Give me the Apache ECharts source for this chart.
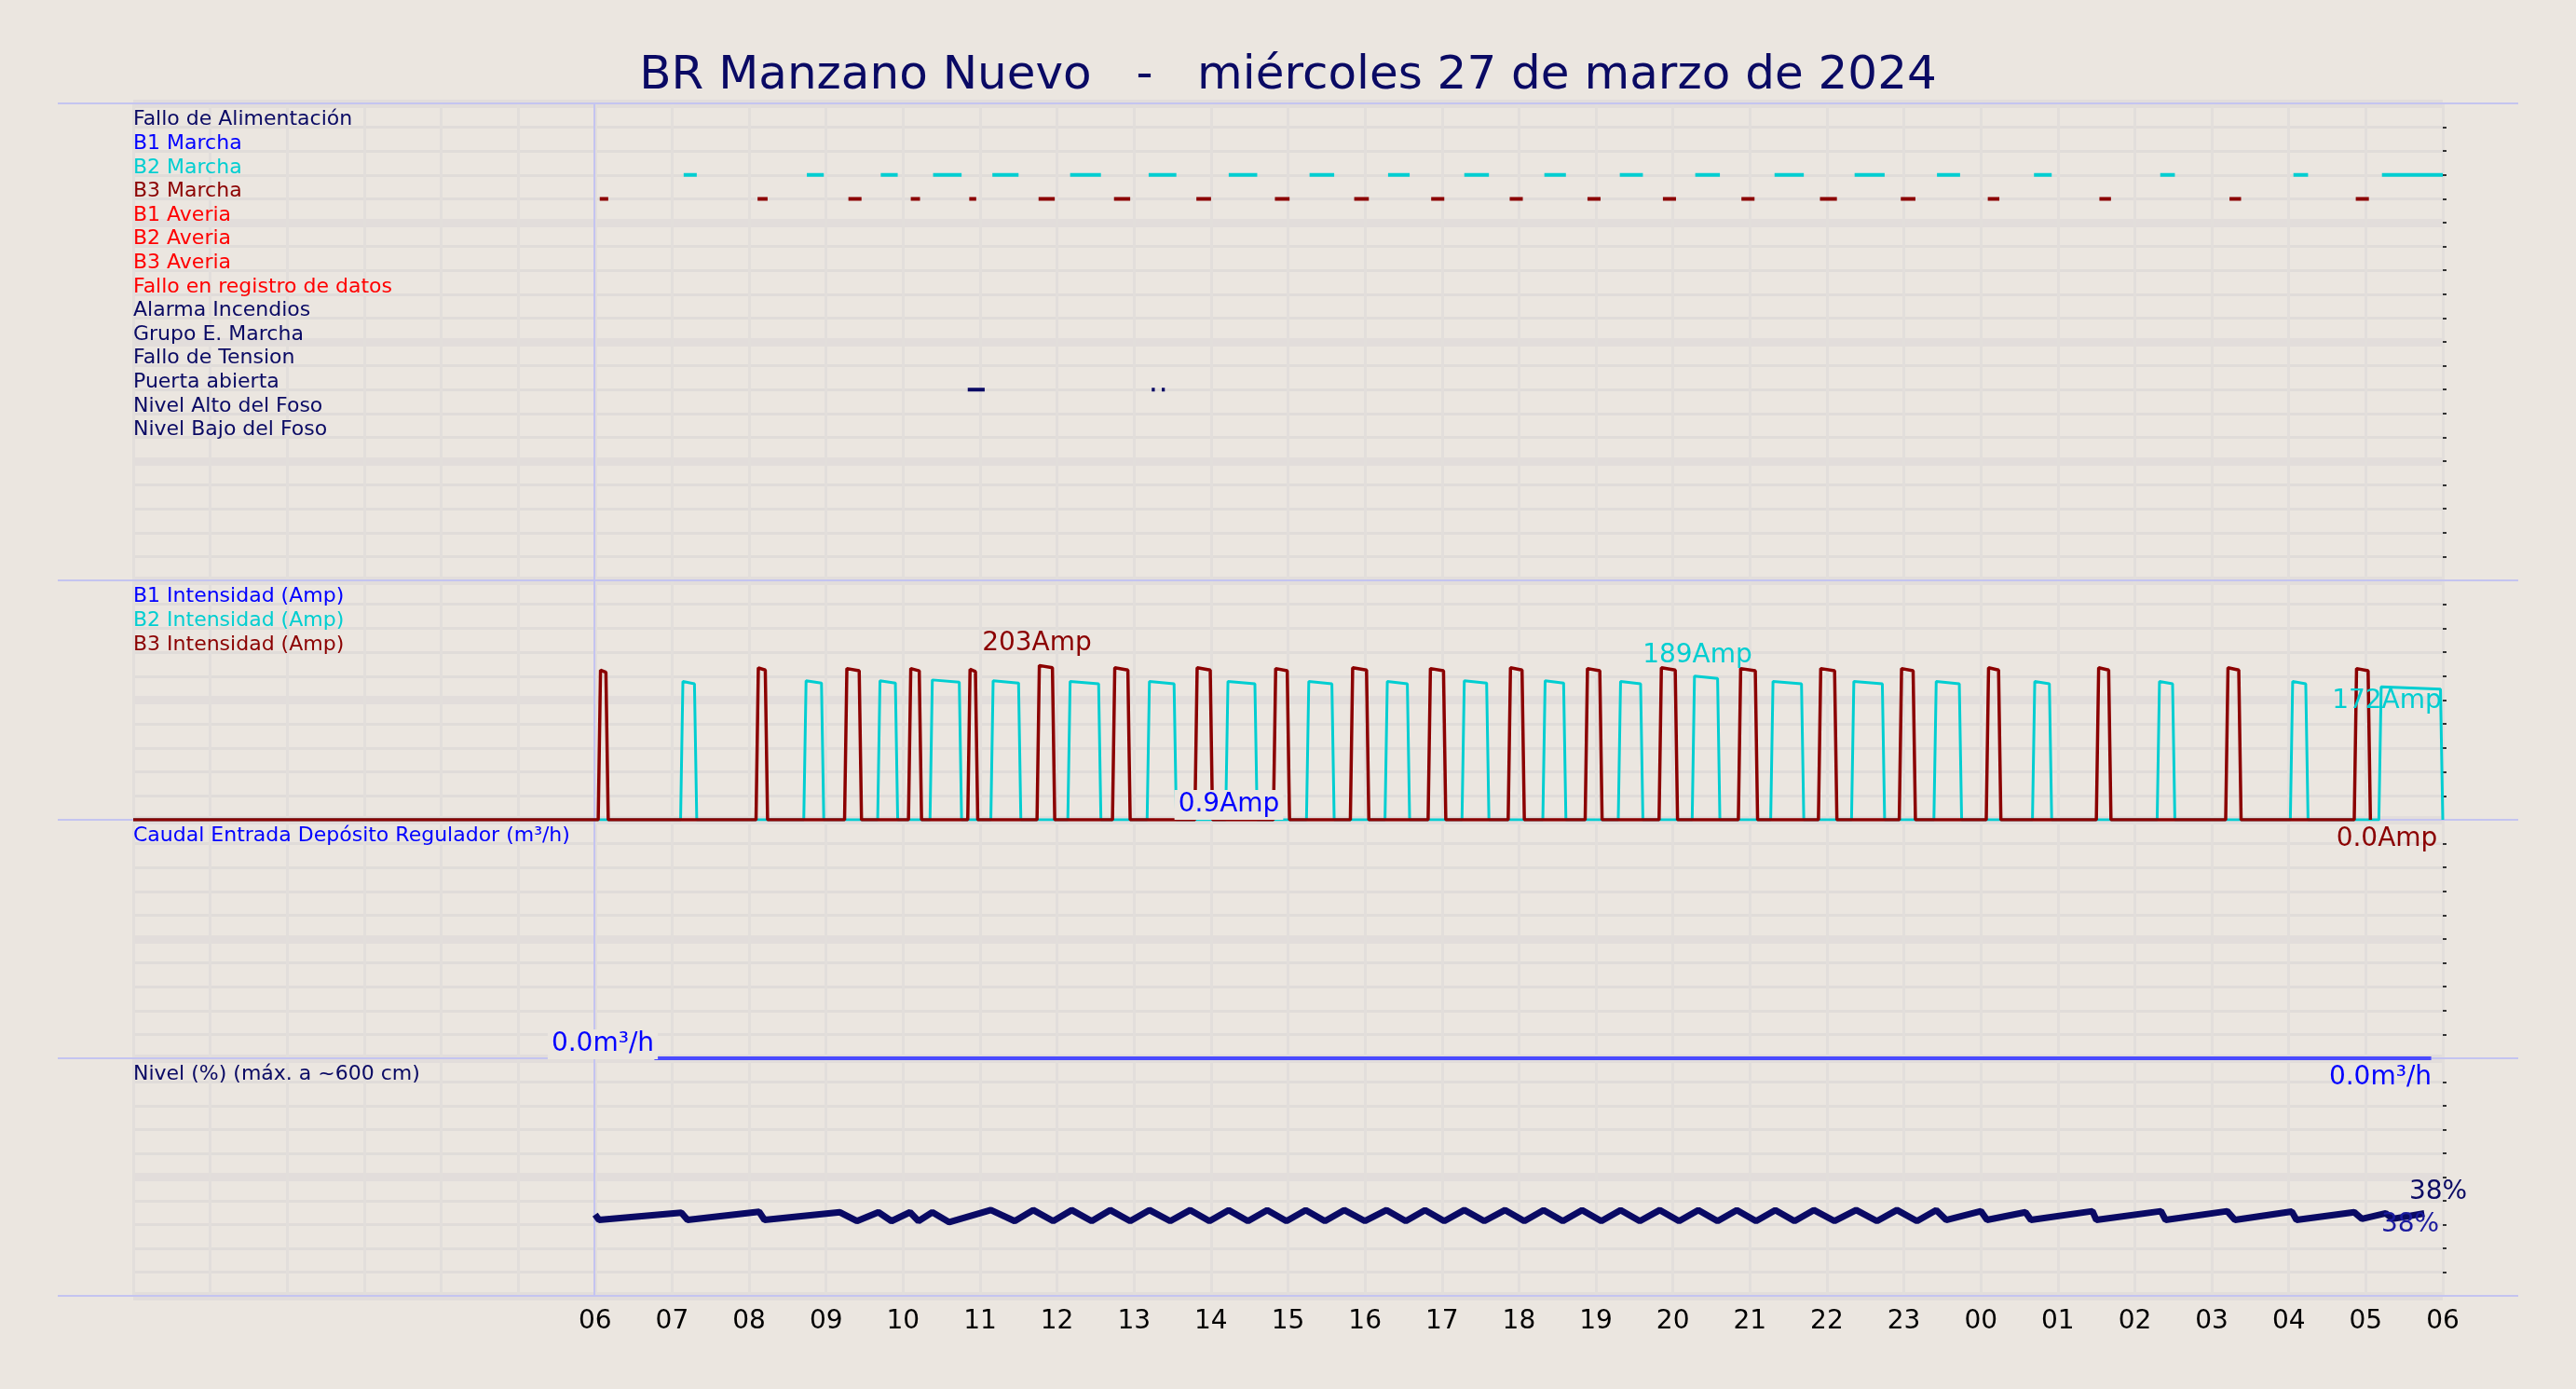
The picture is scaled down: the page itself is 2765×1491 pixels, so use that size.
<!DOCTYPE html>
<html>
<head>
<meta charset="utf-8">
<script src="https://cdn.jsdelivr.net/npm/echarts@6/dist/echarts.min.js"></script>
<style>html,body{margin:0;padding:0;background:#ebe6e0;}#chart{width:2765px;height:1491px;}</style>
</head>
<body>
<div id="chart"></div>
<script>
// etiquetas de señales digitales
var signalNames = ['Fallo de Alimentación', 'B1 Marcha', 'B2 Marcha', 'B3 Marcha', 'B1 Averia', 'B2 Averia', 'B3 Averia',
    'Fallo en registro de datos', 'Alarma Incendios', 'Grupo E. Marcha', 'Fallo de Tension', 'Puerta abierta',
    'Nivel Alto del Foso', 'Nivel Bajo del Foso'];
var signalColors = ['#0a0a64', '#0000ff', '#00ced1', '#8b0000', '#ff0000', '#ff0000', '#ff0000', '#ff0000',
    '#0a0a64', '#0a0a64', '#0a0a64', '#0a0a64', '#0a0a64', '#0a0a64'];
var ampNames = ['B1 Intensidad (Amp)', 'B2 Intensidad (Amp)', 'B3 Intensidad (Amp)'];
var ampColors = ['#0000ff', '#00ced1', '#8b0000'];

// intervalos de marcha (horas desde 00h del día 27)
var b2Marcha = [[7.15,7.32],[8.75,8.97],[9.71,9.93],[10.39,10.76],[11.16,11.50],[12.17,12.57],[13.19,13.55],[14.23,14.60],
    [15.28,15.60],[16.30,16.58],[17.29,17.61],[18.33,18.61],[19.31,19.61],[20.29,20.61],[21.32,21.70],[22.36,22.75],
    [23.43,23.73],[24.69,24.92],[26.33,26.52],[28.06,28.25],[29.21,30]];
var b3Marcha = [[6.06,6.17],[8.11,8.24],[9.29,9.46],[10.10,10.22],[10.86,10.95],[11.76,11.97],[12.74,12.95],[13.81,14.0],
    [14.83,15.02],[15.86,16.05],[16.86,17.03],[17.88,18.05],[18.89,19.06],[19.87,20.04],[20.89,21.06],[21.91,22.13],
    [22.96,23.15],[24.09,24.24],[25.54,25.69],[27.23,27.38],[28.87,29.04]];
var puerta = [[10.84,11.06],[13.23,13.27],[13.36,13.40]];

// pulsos de intensidad [inicio, fin, pico]
var b3Pulses = [[6.04,6.17,197],[8.09,8.24,200],[9.24,9.46,199],[10.07,10.24,199],[10.84,10.97,198],[11.74,11.97,203],
    [12.72,12.95,200],[13.79,14.02,200],[14.81,15.02,199],[15.81,16.05,200],[16.82,17.05,199],[17.86,18.07,200],
    [18.86,19.08,199],[19.82,20.06,200],[20.85,21.10,199],[21.89,22.13,199],[22.94,23.15,199],[24.07,24.26,200],
    [25.50,25.69,200],[27.18,27.38,200],[28.85,29.06,199]];
var b2Pulses = [[7.11,7.32,182],[8.71,8.97,183],[9.67,9.93,183],[10.35,10.76,184],[11.14,11.53,183],[12.14,12.57,182],
    [13.17,13.55,182],[14.19,14.60,182],[15.24,15.60,182],[16.26,16.58,182],[17.26,17.61,183],[18.31,18.61,183],
    [19.29,19.61,182],[20.25,20.61,189],[21.27,21.70,182],[22.32,22.75,182],[23.39,23.75,182],[24.67,24.92,182],
    [26.29,26.52,182],[28.02,28.25,182],[29.17,30,175]];

// caudal
var caudal = [[6.77,0],[29.85,0]];

// nivel (%)
var nivel = [[6.0,37],[6.05,34.5],[7.12,37.8],[7.2,34.5],[8.13,38.2],[8.2,34.5],[9.18,38],[9.4,34],[9.68,38],[9.85,34],
    [10.09,38],[10.2,34],[10.38,38],[10.6,33.5],[11.14,39],[11.45,34],[11.69,39],[11.95,34],[12.19,39],[12.45,34],
    [12.69,39],[12.95,34],[13.2,39],[13.47,34],[13.73,39],[13.98,34],[14.23,39],[14.48,34],[14.73,39],[14.98,34],
    [15.23,39],[15.48,34],[15.73,39],[16.0,34],[16.28,39],[16.53,34],[16.78,39],[17.03,34],[17.29,39],[17.55,34],
    [17.82,39],[18.07,34],[18.32,39],[18.57,34],[18.82,39],[19.07,34],[19.32,39],[19.57,34],[19.83,39],[20.08,34],
    [20.33,39],[20.58,34],[20.83,39],[21.08,34],[21.33,39],[21.58,34],[21.83,39],[22.1,34],[22.38,39],[22.65,34],
    [22.91,39],[23.17,34],[23.42,39],[23.55,34.5],[24.0,38.5],[24.08,34.5],[24.58,38],[24.65,34.5],[25.45,38.5],
    [25.5,34.5],[26.34,38.5],[26.4,34.5],[27.2,38.5],[27.3,34.5],[28.04,38.3],[28.1,34.5],[28.85,38],[28.95,35],
    [29.26,37.5],[29.35,35],[29.76,37.5]];

var xLabels = ['00','01','02','03','04','05','06','07','08','09','10','11','12','13','14','15','16','17','18','19','20','21','22','23'];

var FONT = 'DejaVu Sans';
var grids = [
    {left: 143, right: 143, top: 111, height: 512},
    {left: 143, right: 143, top: 623, height: 257},
    {left: 143, right: 143, top: 880, height: 256},
    {left: 143, right: 143, top: 1136, height: 255}
];

function segs(list, y) {
    var out = [];
    list.forEach(function (s) {
        out.push([s[0], y], [s[1], y], [s[1], '-']);
    });
    return out;
}
function pulses(list) {
    var out = [[0, 0]];
    list.forEach(function (p) {
        out.push([p[0], 0], [p[0] + 0.03, p[2]], [p[1] - 0.03, p[2] - 3], [p[1], 0]);
    });
    return out;
}

function xAxisOf(i) {
    return {
        type: 'value', gridIndex: i, min: 0, max: 30, interval: 1,
        axisLine: {show: false}, axisTick: {show: false},
        splitLine: {show: true, lineStyle: {color: '#e2dedb', width: 3}},
        axisLabel: i === 3 ? {
            show: true, fontFamily: FONT, fontSize: 28, color: '#000', margin: 14,
            formatter: function (v) { return v < 6 ? '' : xLabels[v % 24]; }
        } : {show: false}
    };
}
function yAxesOf(i, min, max, itv, inverse, names, colors, idxFn) {
    return [{
        type: 'value', gridIndex: i, min: min, max: max, interval: itv, inverse: inverse,
        axisLine: {show: false}, axisTick: {show: false},
        splitLine: {show: true, lineStyle: {color: '#e0dcd9', width: 3}},
        axisLabel: {
            show: true, inside: true, margin: 0, align: 'left', verticalAlign: 'bottom', lineHeight: 16,
            fontFamily: FONT, fontSize: 22,
            formatter: function (v) { var k = idxFn(v); return names[k] || ''; },
            color: function (v) { var k = idxFn(Number(v)); return colors[k] || '#000'; }
        }
    }, {
        type: 'value', gridIndex: i, min: min, max: max, interval: itv * 5, inverse: inverse,
        axisLine: {show: false}, axisTick: {show: false}, axisLabel: {show: false},
        splitLine: {show: true, lineStyle: {color: '#e2dddb', width: 9}}
    }, {
        type: 'value', gridIndex: i, min: min, max: max, interval: itv, inverse: inverse, position: 'right',
        axisLine: {show: false}, axisLabel: {show: false}, splitLine: {show: false},
        axisTick: {show: true, length: 4, lineStyle: {color: '#333', width: 2}}
    }];
}

var yAxis = [].concat(
    yAxesOf(0, 0, 20, 1, true, signalNames, signalColors, function (v) { return Math.round(v) - 1; }),
    yAxesOf(1, 0, 315, 31.5, false, ampNames, ampColors, function (v) { return Math.round((315 - v) / 31.5) - 1; }),
    yAxesOf(2, 0, 10, 1, false, ['Caudal Entrada Depósito Regulador (m³/h)'], ['#0000ff'], function (v) { return Math.round(10 - v) - 1; }),
    yAxesOf(3, 0, 108, 10.8, false, ['Nivel (%) (máx. a ~600 cm)'], ['#0a0a64'], function (v) { return Math.round((108 - v) / 10.8) - 1; })
);

function lineSeries(gi, data, color, width, z) {
    return {
        type: 'line', xAxisIndex: gi, yAxisIndex: gi * 3, data: data, showSymbol: false, symbol: 'none',
        connectNulls: false, lineStyle: {color: color, width: width}, animation: false, z: z || 5
    };
}

var bg = '#ebe6e0';
var sepColor = '#c4c4f0';
function txt(x, y, s, color, align, withBg) {
    return {type: 'text', x: x, y: y, z: 50, style: {text: s, fill: color, font: '28px "DejaVu Sans"',
        align: align || 'center', verticalAlign: 'middle', backgroundColor: withBg ? bg : null, padding: withBg ? [2, 4] : 0}};
}
var graphic = [
    {type: 'line', shape: {x1: 638, y1: 111, x2: 638, y2: 1391}, style: {stroke: sepColor, lineWidth: 2}, z: 1}
];
[111, 623, 880, 1136, 1391].forEach(function (y) {
    graphic.push({type: 'line', shape: {x1: 62, y1: y, x2: 2703, y2: y}, style: {stroke: sepColor, lineWidth: 2}, z: 1});
});
graphic.push(
    txt(1113, 691, '203Amp', '#8b0000'),
    txt(1822, 704, '189Amp', '#00ced1'),
    txt(2562, 753, '172Amp', '#00ced1'),
    txt(1319, 864, '0.9Amp', '#0000ff', 'center', true),
    txt(2562, 901, '0.0Amp', '#8b0000'),
    txt(647, 1121, '0.0m³/h', '#0000ff', 'center', true),
    txt(2555, 1157, '0.0m³/h', '#0000ff'),
    txt(2617, 1280, '38%', '#0a0a64'),
    txt(2587, 1315, '38%', '#1a1a9e')
);

var chart = echarts.init(document.getElementById('chart'));
chart.setOption({
    backgroundColor: bg,
    animation: false,
    title: {
        text: 'BR Manzano Nuevo   -   miércoles 27 de marzo de 2024', left: 'center', top: 52,
        textStyle: {fontFamily: FONT, fontSize: 50, fontWeight: 'normal', color: '#0a0a64'}
    },
    grid: grids,
    xAxis: [xAxisOf(0), xAxisOf(1), xAxisOf(2), xAxisOf(3)],
    yAxis: yAxis,
    graphic: graphic,
    series: [
        lineSeries(0, segs(b2Marcha, 3), '#00ced1', 4),
        lineSeries(0, segs(b3Marcha, 4), '#8b0000', 4),
        lineSeries(0, segs(puerta, 12), '#0a0a64', 4),
        lineSeries(1, pulses(b2Pulses), '#00ced1', 3),
        lineSeries(1, pulses(b3Pulses), '#8b0000', 3.5),
        lineSeries(2, caudal, '#4a4aff', 4, 30),
        lineSeries(3, nivel, '#0a0a64', 7)
    ]
});
</script>
</body>
</html>
